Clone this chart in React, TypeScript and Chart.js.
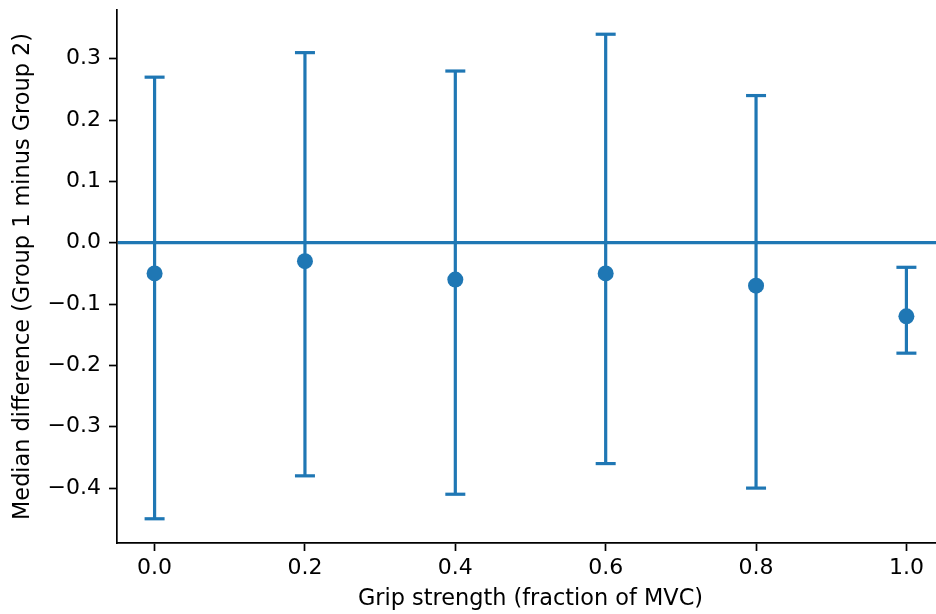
import React, { useEffect, useRef } from "react";
import { Chart, registerables } from "chart.js";

Chart.register(...registerables);

const xValues = [0.0, 0.2, 0.4, 0.6, 0.8, 1.0];
const medians = [-0.05, -0.03, -0.06, -0.05, -0.07, -0.12];
const lowerBounds = [-0.45, -0.38, -0.41, -0.36, -0.40, -0.18];
const upperBounds = [0.27, 0.31, 0.28, 0.34, 0.24, -0.04];
const xTicks = [0.0, 0.2, 0.4, 0.6, 0.8, 1.0];
const yTicks = [-0.4, -0.3, -0.2, -0.1, 0.0, 0.1, 0.2, 0.3];

const BLUE = "#1f77b4";
const FONT = { family: "DejaVu Sans", size: 22 };
const TITLE_FONT = { family: "DejaVu Sans", size: 22.4 };
const fmt = (v: number) => Number(v).toFixed(1).replace("-", "\u2212");

export default function App() {
  const ref = useRef<HTMLCanvasElement | null>(null);
  useEffect(() => {
    if (!ref.current) return;
    const errorSets = xValues.map((x, i) => ({
      type: "scatter" as const,
      data: [
        { x, y: lowerBounds[i] },
        { x, y: upperBounds[i] },
      ],
      showLine: true,
      borderColor: BLUE,
      borderWidth: 3.2,
      pointStyle: "line" as const,
      pointRadius: 10,
      pointBorderWidth: 3.2,
      pointBorderColor: BLUE,
      pointBackgroundColor: BLUE,
      order: 2,
    }));
    const medianSet = {
      type: "scatter" as const,
      data: xValues.map((x, i) => ({ x, y: medians[i] })),
      pointRadius: 8,
      pointBackgroundColor: BLUE,
      pointBorderWidth: 0,
      borderColor: BLUE,
      showLine: false,
      order: 1,
    };
    const chart = new Chart(ref.current, {
      type: "scatter",
      data: { datasets: [...errorSets, medianSet] as any },
      options: {
        animation: false,
        responsive: false,
        devicePixelRatio: 1,
        layout: { autoPadding: false, padding: { top: 10, left: 0, right: 0, bottom: 0 } },
        plugins: { legend: { display: false }, tooltip: { enabled: false } },
        scales: {
          x: {
            type: "linear",
            min: -0.05,
            max: 1.05,
            afterFit: (s: any) => {
              s.height = 71;
              s.paddingLeft = 0;
              s.paddingRight = 0;
            },
            afterBuildTicks: (s: any) => {
              s.ticks = xTicks.map((v) => ({ value: v }));
            },
            border: { display: true, color: "#000", width: 1.7 },
            grid: {
              drawOnChartArea: false,
              drawTicks: true,
              tickLength: 8,
              tickColor: "#000",
              tickWidth: 1.7,
            },
            ticks: {
              color: "#000",
              font: FONT,
              padding: 4,
              maxRotation: 0,
              autoSkip: false,
              callback: (v: any) => fmt(v),
            },
            title: {
              display: true,
              text: "Grip strength (fraction of MVC)",
              color: "#000",
              font: TITLE_FONT,
              padding: { top: 0, bottom: 1 },
            },
          },
          y: {
            type: "linear",
            min: -0.4895,
            max: 0.3795,
            afterFit: (s: any) => {
              s.width = 117;
              s.paddingTop = 0;
              s.paddingBottom = 0;
            },
            afterBuildTicks: (s: any) => {
              s.ticks = yTicks.map((v) => ({ value: v }));
            },
            border: { display: true, color: "#000", width: 1.7 },
            grid: {
              drawOnChartArea: true,
              drawTicks: true,
              tickLength: 8,
              tickColor: "#000",
              tickWidth: 1.7,
              color: (ctx: any) =>
                ctx.tick && Math.abs(ctx.tick.value) < 1e-9 ? BLUE : "rgba(0,0,0,0)",
              lineWidth: (ctx: any) =>
                ctx.tick && Math.abs(ctx.tick.value) < 1e-9 ? 3.2 : 1,
            },
            ticks: {
              color: "#000",
              font: FONT,
              padding: 8,
              autoSkip: false,
              callback: (v: any) => fmt(v),
            },
            title: {
              display: true,
              text: "Median difference (Group 1 minus Group 2)",
              color: "#000",
              font: TITLE_FONT,
              padding: { top: 10, bottom: 0 },
            },
          },
        },
      },
    });
    return () => chart.destroy();
  }, []);
  return (
    <div
      style={{
        position: "absolute",
        left: 0,
        top: 0,
        width: 936,
        height: 614,
        overflow: "hidden",
        background: "#fff",
      }}
    >
      <canvas ref={ref} width={944} height={614} style={{ display: "block" }} />
    </div>
  );
}
